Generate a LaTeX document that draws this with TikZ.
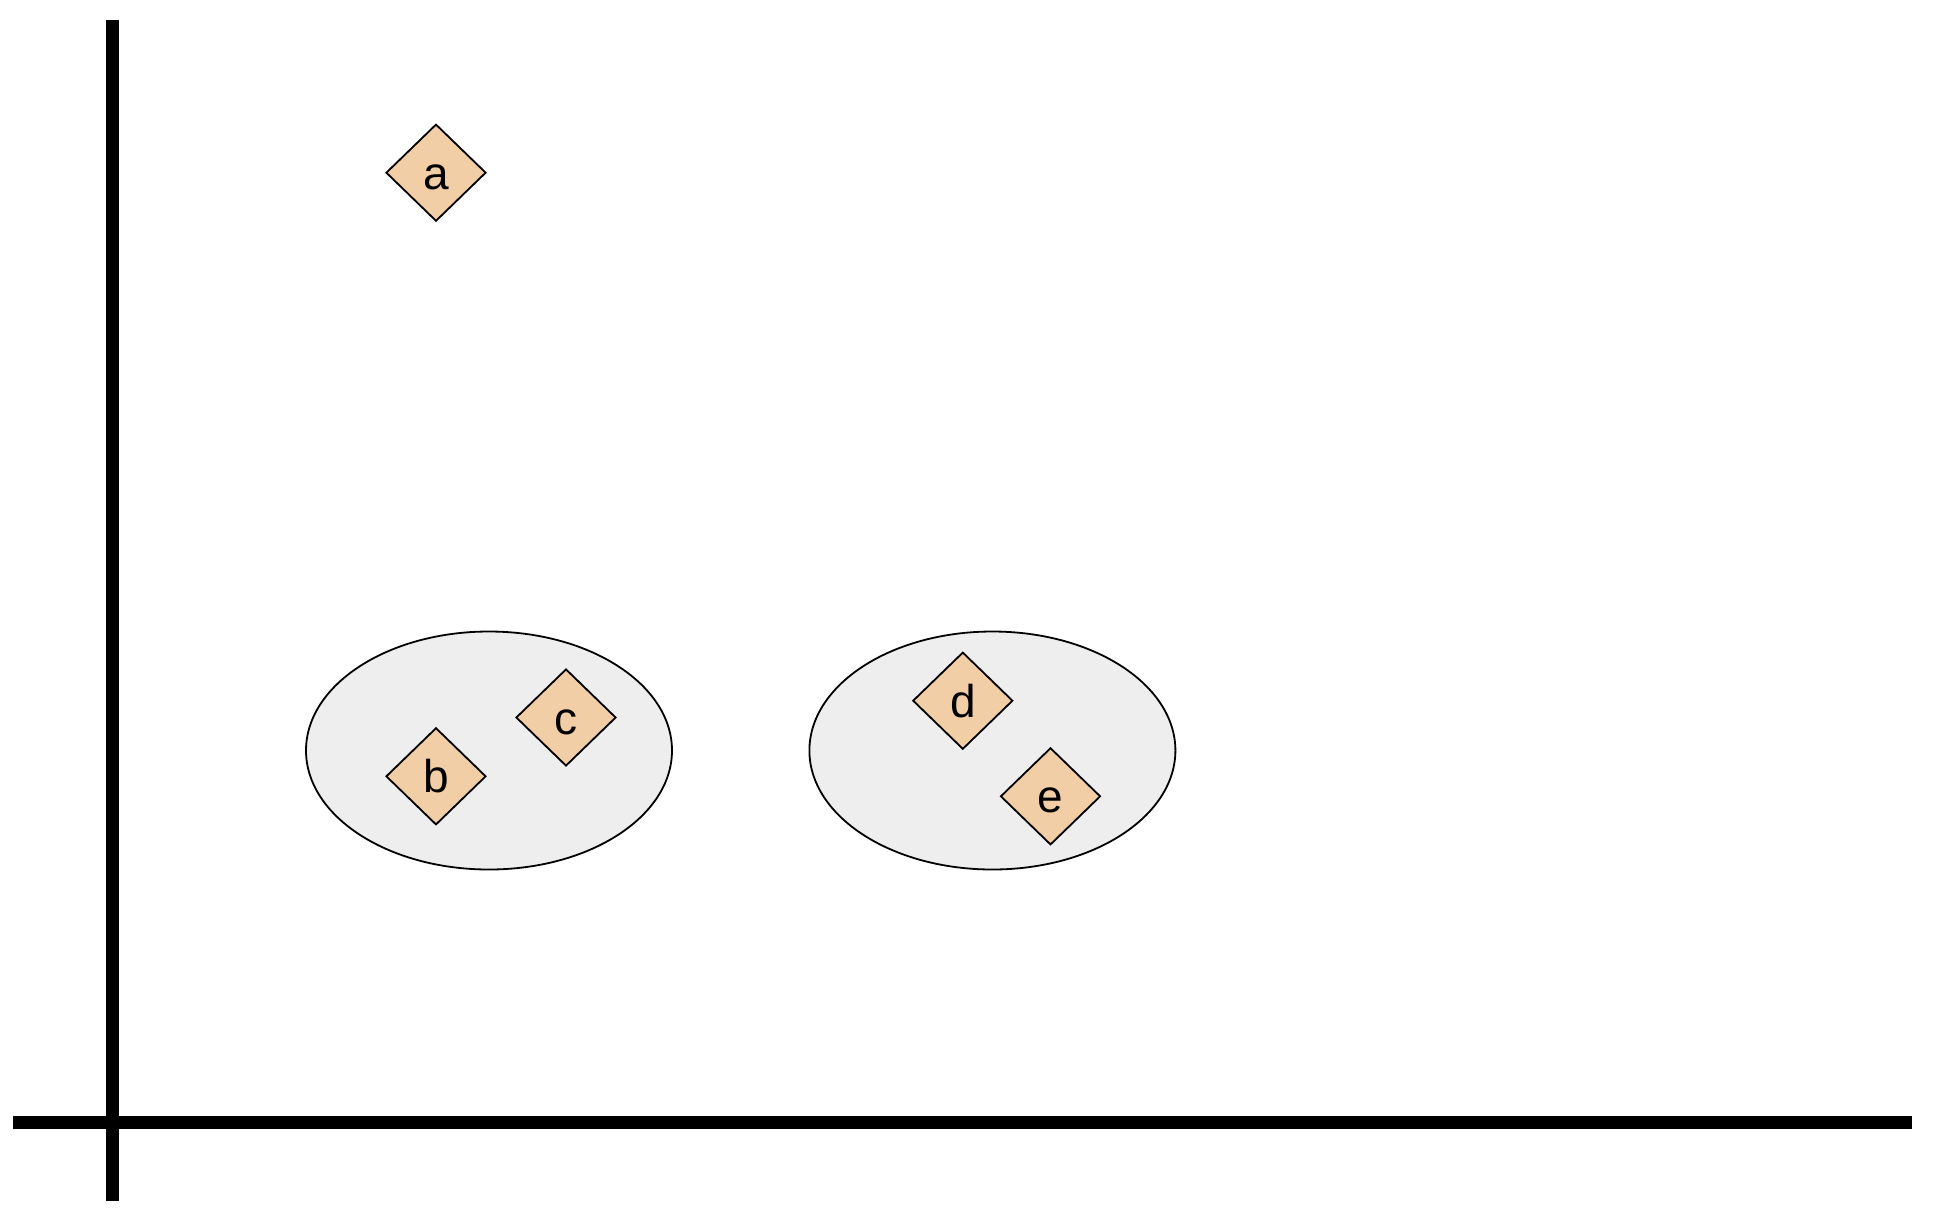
\documentclass[tikz,border=0pt]{standalone}
\usepackage{fontspec}
\setmainfont{Liberation Sans}
\usetikzlibrary{shapes.geometric}
\definecolor{itemfill}{RGB}{242,206,166}
\definecolor{groupfill}{RGB}{238,238,238}
\tikzset{
    item/.style={diamond, draw=black, line width=0.9pt, fill=itemfill,
        minimum width=50pt, minimum height=48.5pt, inner sep=0pt,
        text height=16.6pt, text depth=0pt, font=\fontsize{23}{23}\selectfont},
    group/.style={ellipse, draw=black, line width=0.9pt, fill=groupfill,
        minimum width=183pt, minimum height=119pt, inner sep=0pt},
    axis/.style={line width=6.5pt, black}
}
\begin{document}
\begin{tikzpicture}[x=0.5pt, y=-0.5pt]
                \useasboundingbox (0,0) rectangle (1944,1222);
                \coordinate (ytop) at (112,20);
                \coordinate (ybot) at (112,1201);
                \coordinate (xleft) at (13,1122.5);
                \coordinate (xright) at (1912,1122.5);
                \draw[axis] (ytop) -- (ybot);
                \draw[axis] (xleft) -- (xright);
                \node[group] (g1) at (489,750.5) {};
                \node[group] (g2) at (992.4,750.5) {};
                \node[item] (a) at (436,172.7) {a};
                \node[item] (b) at (436,776.3) {b};
                \node[item] (c) at (566,717.5) {c};
                \node[item] (d) at (962.8,700.7) {d};
                \node[item] (e) at (1050.5,796.3) {e};
            \end{tikzpicture}
\end{document}
